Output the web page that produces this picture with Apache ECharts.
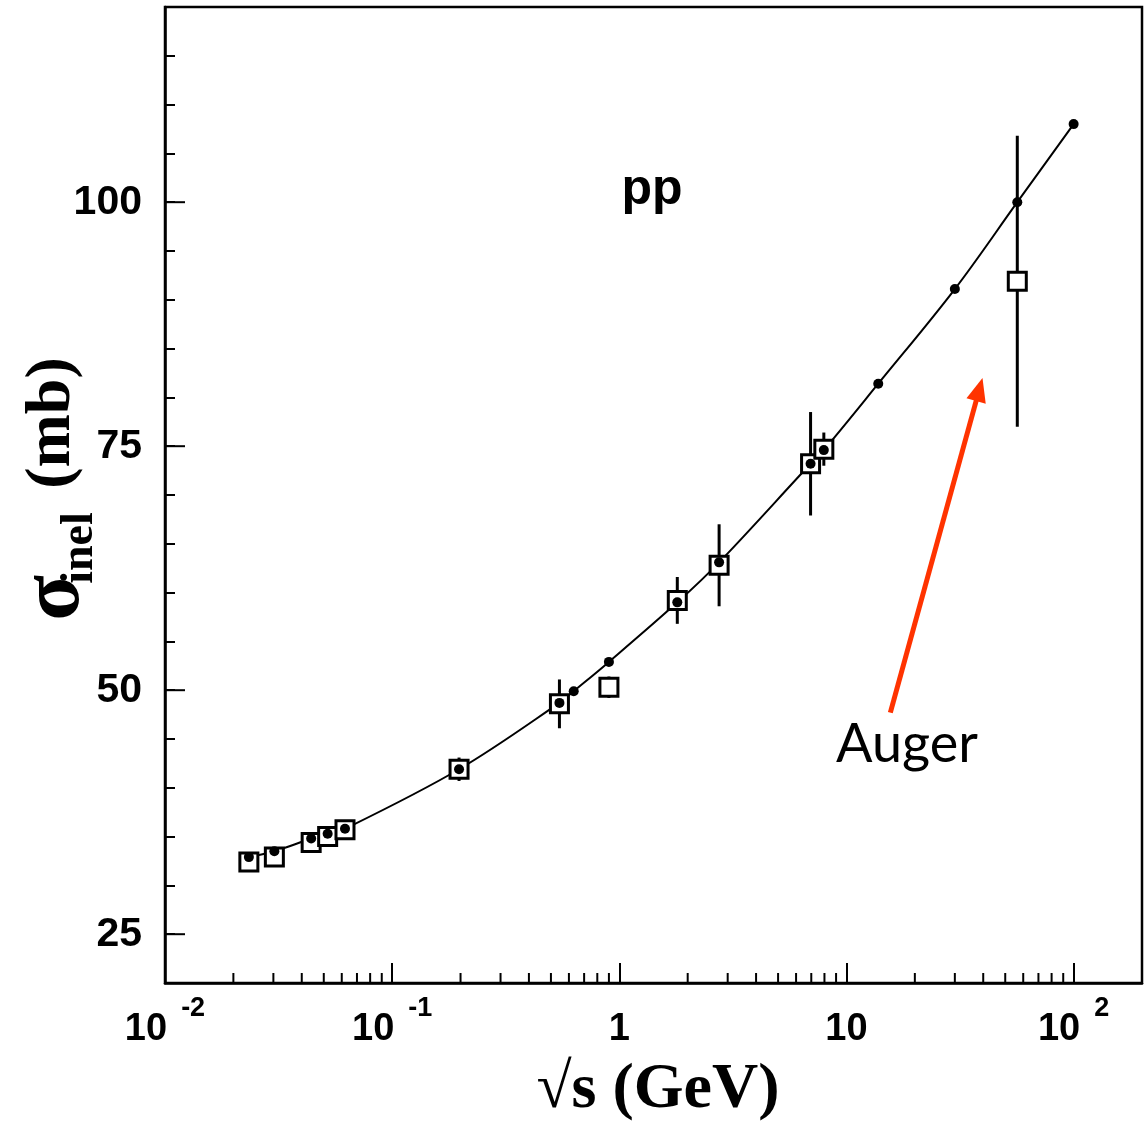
<!DOCTYPE html>
<html>
<head>
<meta charset="utf-8">
<script src="https://cdn.jsdelivr.net/npm/echarts@6/dist/echarts.min.js"></script>
<style>
html,body{margin:0;padding:0;background:#fff;}
#chart{width:1145px;height:1136px;}
</style>
</head>
<body>
<div id="chart"></div>
<script>
// Model curve points (filled dots)
const curveX = [0.0234, 0.0303, 0.044, 0.052, 0.062, 0.197, 0.545, 0.63, 0.9, 1.8, 2.75, 6.95, 7.95, 13.8, 30, 56.5, 100];
const curveY = [32.9, 33.5, 34.8, 35.3, 35.8, 41.9, 48.7, 49.9, 52.9, 59.0, 63.1, 73.2, 74.6, 81.4, 91.1, 100.0, 108.0];
// Measurements (open squares) with error bars
const measX = [0.0234, 0.0303, 0.044, 0.052, 0.062, 0.197, 0.545, 0.9, 1.8, 2.75, 6.95, 7.95, 56.5];
const measY = [32.4, 32.9, 34.4, 35.0, 35.7, 41.9, 48.6, 50.3, 59.2, 62.8, 73.2, 74.7, 91.9];
const measErr = [0.4, 0.4, 0.4, 0.4, 0.4, 1.2, 2.5, 1.1, 2.4, 4.2, 5.3, 1.7, 14.9];
// Axis ticks
const xMinorTicks = [0.02,0.03,0.04,0.05,0.06,0.07,0.08,0.09,
                     0.2,0.3,0.4,0.5,0.6,0.7,0.8,0.9,
                     2,3,4,5,6,7,8,9,
                     20,30,40,50,60,70,80,90];
const yMajorTicks = [25, 50, 75, 100];
const xRange = [0.01, 200];
const yRange = [20, 120];
// Auger arrow (data coordinates: tail x, tail y, head x, head y)
const arrowTail = [15.6, 47.7];
const arrowHead = [39.7, 82.0];

const chart = echarts.init(document.getElementById('chart'), null, {renderer: 'canvas'});

const curveData = curveX.map((x, i) => [x, curveY[i]]);
const measData = measX.map((x, i) => [x, measY[i]]);
const errData = measX.map((x, i) => [x, measY[i] - measErr[i], measY[i] + measErr[i]]);

const option = {
  backgroundColor: '#fff',
  animation: false,
  grid: {
    left: 165, right: 3, top: 7, bottom: 153,
    show: true, borderColor: '#000', borderWidth: 2.5,
    outerBoundsMode: 'none', containLabel: false
  },
  xAxis: {
    type: 'log', logBase: 10, min: xRange[0], max: xRange[1],
    axisLine: {show: true, lineStyle: {color: '#000', width: 2.5}},
    axisTick: {show: true, inside: true, length: 20, lineStyle: {color: '#000', width: 2}},
    splitLine: {show: false},
    minorTick: {show: false},
    axisLabel: {
      margin: 12,
      color: '#000',
      showMaxLabel: false,
      formatter: function (v) {
        const l = Math.log10(v);
        const e = Math.round(l);
        if (Math.abs(l - e) > 1e-6) return '';
        if (e === 0) return '{b|1}';
        if (e === 1) return '{b|10}';
        return '{b|10}{s|' + (e < 0 ? '-' + (-e) : String(e)) + '}';
      },
      rich: {
        b: {fontFamily: 'Liberation Sans', fontWeight: 'bold', fontSize: 38, lineHeight: 70, color: '#000'},
        s: {fontFamily: 'Liberation Sans', fontWeight: 'bold', fontSize: 27, lineHeight: 27, verticalAlign: 'top', padding: [0, 0, 0, 14], color: '#000'}
      }
    }
  },
  yAxis: {
    type: 'value', min: yRange[0], max: yRange[1], interval: 5,
    axisLine: {show: true, lineStyle: {color: '#000', width: 2.5}},
    axisTick: {show: true, inside: true, length: 10, lineStyle: {color: '#000', width: 2}},
    splitLine: {show: false},
    axisLabel: {
      margin: 23, color: '#000',
      fontFamily: 'Liberation Sans', fontWeight: 'bold', fontSize: 41,
      formatter: function (v) { return yMajorTicks.indexOf(v) >= 0 ? String(v) : ''; }
    }
  },
  series: [
    { // x minor ticks
      type: 'custom', silent: true, z: 1,
      data: xMinorTicks.map(v => [v, yRange[0]]),
      renderItem: function (params, api) {
        const p = api.coord([api.value(0), api.value(1)]);
        return {type: 'line', shape: {x1: p[0], y1: p[1], x2: p[0], y2: p[1] - 10},
                style: {stroke: '#000', lineWidth: 2}};
      }
    },
    { // y major ticks
      type: 'custom', silent: true, z: 1,
      data: yMajorTicks.map(v => [xRange[0], v]),
      renderItem: function (params, api) {
        const p = api.coord([api.value(0), api.value(1)]);
        return {type: 'line', shape: {x1: p[0], y1: p[1], x2: p[0] + 20, y2: p[1]},
                style: {stroke: '#000', lineWidth: 2}};
      }
    },
    { // model curve
      type: 'line', data: curveData, smooth: 0.35, symbol: 'none', z: 2,
      lineStyle: {color: '#000', width: 2}, silent: true
    },
    { // Auger arrow
      type: 'custom', silent: true, z: 2,
      data: [[arrowTail[0], arrowTail[1], arrowHead[0], arrowHead[1]]],
      renderItem: function (params, api) {
        const t = api.coord([api.value(0), api.value(1)]);
        const h = api.coord([api.value(2), api.value(3)]);
        const dx = h[0] - t[0], dy = h[1] - t[1];
        const len = Math.sqrt(dx * dx + dy * dy);
        const ux = dx / len, uy = dy / len;
        const hl = 24, hw = 10;
        const bx = h[0] - ux * hl, by = h[1] - uy * hl;
        return {type: 'group', children: [
          {type: 'line', shape: {x1: t[0], y1: t[1], x2: bx + ux * 2, y2: by + uy * 2},
           style: {stroke: '#ff3300', lineWidth: 5}},
          {type: 'polygon', shape: {points: [[h[0], h[1]], [bx - uy * hw, by + ux * hw], [bx + uy * hw, by - ux * hw]]},
           style: {fill: '#ff3300'}}
        ]};
      }
    },
    { // error bars
      type: 'custom', z: 3, silent: true,
      data: errData,
      renderItem: function (params, api) {
        const lo = api.coord([api.value(0), api.value(1)]);
        const hi = api.coord([api.value(0), api.value(2)]);
        return {type: 'line', shape: {x1: lo[0], y1: lo[1], x2: hi[0], y2: hi[1]},
                style: {stroke: '#000', lineWidth: 3}};
      }
    },
    { // measurements
      type: 'scatter', data: measData, symbol: 'rect', symbolSize: 18, z: 4, silent: true,
      itemStyle: {color: '#fff', borderColor: '#000', borderWidth: 3, opacity: 1}
    },
    { // curve dots
      type: 'scatter', data: curveData, symbol: 'circle', symbolSize: 10, z: 5, silent: true,
      itemStyle: {color: '#000', opacity: 1}
    }
  ],
  graphic: [
    {type: 'text', x: 652, y: 190, style: {text: 'pp', fontFamily: 'Liberation Sans', fontWeight: 'bold', fontSize: 50, fill: '#000', align: 'center', verticalAlign: 'middle'}},
    {type: 'text', x: 907, y: 745, style: {text: 'Auger', fontFamily: 'Lato', fontSize: 54, fill: '#000', align: 'center', verticalAlign: 'middle'}},
    {type: 'text', x: 658, y: 1090, style: {text: '\u221As (GeV)', fontFamily: 'Liberation Serif', fontWeight: 'bold', fontSize: 64, fill: '#000', align: 'center', verticalAlign: 'middle'}},
    {type: 'text', x: 56, y: 598, rotation: Math.PI / 2, style: {text: '\u03C3', fontFamily: 'Liberation Serif', fontWeight: 'bold', fontSize: 84, fill: '#000', align: 'center', verticalAlign: 'middle'}},
    {type: 'text', x: 80, y: 548, rotation: Math.PI / 2, style: {text: 'inel', fontFamily: 'Liberation Serif', fontWeight: 'bold', fontSize: 46, fill: '#000', align: 'center', verticalAlign: 'middle'}},
    {type: 'text', x: 52, y: 423, rotation: Math.PI / 2, style: {text: '(mb)', fontFamily: 'Liberation Serif', fontWeight: 'bold', fontSize: 64, fill: '#000', align: 'center', verticalAlign: 'middle'}}
  ]
};
chart.setOption(option);
</script>
</body>
</html>
